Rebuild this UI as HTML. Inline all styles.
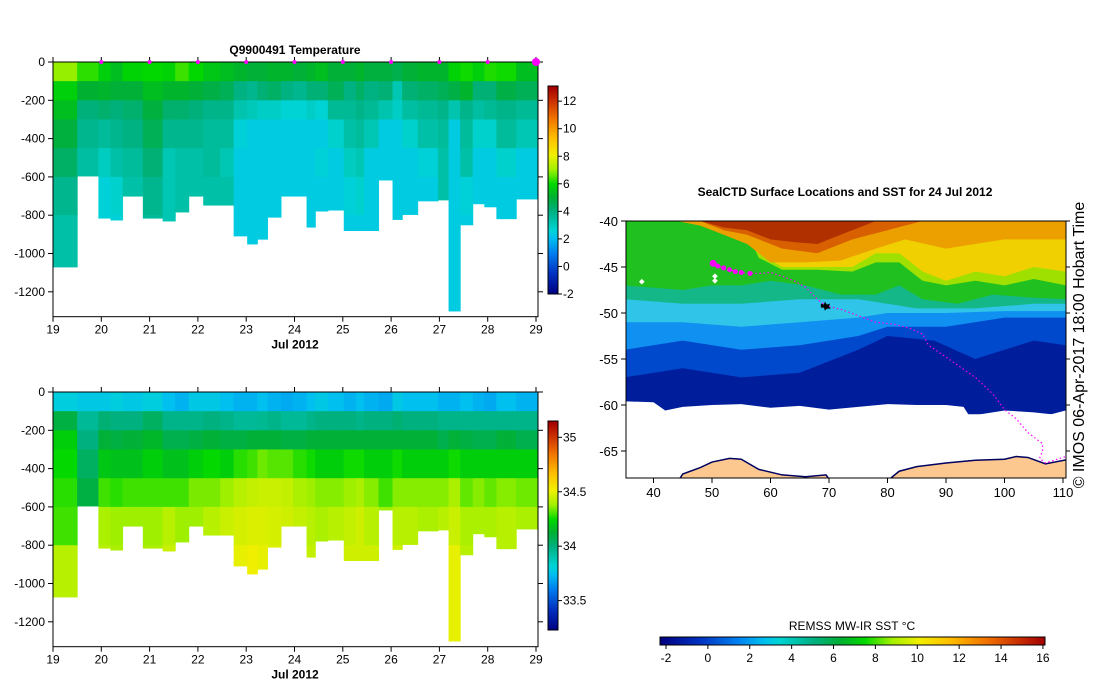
<!DOCTYPE html>
<html><head><meta charset="utf-8"><style>
body{margin:0;background:#fff;}
svg{display:block;font-family:"Liberation Sans",sans-serif;}
</style></head><body>
<svg id="s" width="1099" height="700" viewBox="0 0 1099 700">
<defs><clipPath id="mc"><rect x="626" y="221" width="440" height="257"/></clipPath></defs>
<g id="map"></g>
<g id="temp"></g>
<g id="sal"></g>
<g id="cb"></g>
<text x="295" y="54" text-anchor="middle" font-size="12" font-weight="bold">Q9900491  Temperature</text>
<text x="845" y="196" text-anchor="middle" font-size="12" font-weight="bold">SealCTD Surface Locations and SST for 24 Jul 2012</text>
<text transform="translate(1084,345) rotate(-90)" text-anchor="middle" font-size="16">© IMOS 06-Apr-2017 18:00 Hobart Time</text>
<text x="852" y="630" text-anchor="middle" font-size="12">REMSS MW-IR SST °C</text>
</svg>
<script>
const profileStart=[19,19.5,19.94,20.19,20.44,20.86,21.27,21.53,21.81,22.11,22.46,22.74,23.02,23.23,23.44,23.72,23.97,24.25,24.43,24.69,25.02,25.27,25.44,25.74,26.03,26.23,26.55,26.97,27.19,27.43,27.69,27.93,28.18,28.59];
const profileEnd=29.04;
const maxDepth=[1070,595,815,825,700,815,830,783,700,747,747,908,950,925,810,700,700,862,778,773,880,880,880,616,822,796,725,720,1300,850,740,756,818,715];
const levelTop=[0,100,200,300,450,600,800];
const levelBot=[100,200,300,450,600,800,1400];
const tempVals=[
[7.0,5.8,5.4,4.9,4.4,3.8,3.4],[6.3,5.1,4.1,3.8,3.5,3.4,3.4],[5.8,5.2,4.3,3.6,3.0,2.6,2.6],[5.4,5.0,4.1,3.8,3.4,2.8,2.6],
[5.9,5.0,4.3,4.0,3.6,3.4,3.4],[6.0,5.4,4.9,4.6,4.2,3.8,3.6],[5.9,5.2,4.3,3.8,3.2,3.2,3.2],[6.4,5.2,4.3,3.8,3.4,3.4,3.4],
[6.0,5.0,4.1,3.8,3.4,3.4,3.4],[5.6,4.8,3.9,3.6,3.6,3.4,3.4],[5.4,4.6,3.9,3.6,3.2,3.4,3.4],[5.2,4.0,3.3,2.6,2.4,2.4,2.4],
[5.0,3.8,3.1,2.4,2.4,2.4,2.4],[5.0,4.2,2.9,2.4,2.4,2.4,2.4],[5.2,4.4,2.9,2.4,2.4,2.4,2.4],[5.2,4.0,2.7,2.4,2.4,2.4,2.4],
[5.0,3.8,2.7,2.4,2.4,2.4,2.4],[5.2,4.2,2.9,2.4,2.4,2.4,2.4],[5.4,4.2,2.7,2.4,2.6,2.4,2.4],[5.0,4.6,3.7,2.8,2.4,2.4,2.4],
[5.0,4.0,3.7,3.4,3.0,2.6,2.4],[5.2,4.4,3.9,3.6,3.2,2.8,2.4],[4.9,4.0,3.7,3.2,2.4,2.4,2.4],[4.9,4.2,3.3,2.4,2.4,2.4,2.4],
[4.7,3.2,2.9,2.4,2.4,2.4,2.4],[5.0,4.2,3.5,2.8,2.4,2.4,2.4],[5.2,4.4,3.7,3.4,2.6,2.4,2.4],[5.2,4.6,3.9,3.6,3.4,3.4,3.4],
[5.9,4.8,3.3,2.4,2.4,2.4,2.4],[6.1,5.2,3.9,3.6,3.4,2.6,2.4],[5.8,4.2,3.5,2.8,2.4,2.4,2.4],[6.2,4.2,3.7,2.8,2.4,2.4,2.4],
[6.1,4.8,3.9,3.6,2.8,2.4,2.4],[5.4,4.6,3.7,3.2,2.4,2.4,2.4]];
const salVals=[
[33.8,34.1,34.22,34.25,34.28,34.3,34.42],[33.78,33.95,34.0,34.05,34.1,34.15,34.15],[33.78,34.02,34.12,34.2,34.3,34.4,34.42],[33.8,34.0,34.1,34.18,34.28,34.38,34.4],
[33.78,34.0,34.12,34.18,34.3,34.38,34.38],[33.8,34.05,34.15,34.22,34.3,34.38,34.4],[33.75,33.98,34.08,34.18,34.3,34.42,34.45],[33.72,33.98,34.08,34.18,34.3,34.38,34.38],
[33.78,33.98,34.1,34.22,34.35,34.38,34.38],[33.78,34.0,34.12,34.25,34.35,34.42,34.42],[33.75,33.98,34.1,34.22,34.38,34.45,34.47],[33.72,33.95,34.1,34.28,34.42,34.47,34.5],
[33.72,33.95,34.12,34.3,34.44,34.48,34.52],[33.75,33.96,34.12,34.34,34.45,34.48,34.5],[33.72,33.98,34.12,34.32,34.45,34.47,34.48],[33.7,33.95,34.1,34.32,34.44,34.46,34.46],
[33.72,33.95,34.1,34.28,34.4,34.44,34.44],[33.75,33.98,34.12,34.26,34.38,34.42,34.44],[33.78,34.0,34.12,34.22,34.36,34.4,34.42],[33.75,34.0,34.12,34.22,34.36,34.42,34.44],
[33.72,34.0,34.12,34.26,34.38,34.44,34.46],[33.75,33.98,34.12,34.26,34.4,34.46,34.46],[33.72,34.0,34.12,34.22,34.36,34.42,34.46],[33.7,34.0,34.12,34.22,34.3,34.38,34.38],
[33.78,34.02,34.12,34.26,34.36,34.42,34.46],[33.75,34.0,34.12,34.22,34.36,34.42,34.42],[33.75,34.0,34.12,34.22,34.36,34.4,34.4],[33.72,33.98,34.08,34.22,34.36,34.42,34.5],
[33.72,33.98,34.12,34.26,34.4,34.45,34.5],[33.75,33.98,34.1,34.22,34.33,34.4,34.42],[33.72,33.98,34.08,34.22,34.36,34.4,34.4],[33.7,33.98,34.08,34.22,34.33,34.4,34.42],
[33.75,33.98,34.12,34.22,34.36,34.42,34.42],[33.72,33.98,34.08,34.22,34.34,34.4,34.4]];
const dayTicks=[19,20,21,22,23,24,25,26,27,28,29];
const depthTicks=[0,200,400,600,800,1000,1200];
const tempCbTicks=[-2,0,2,4,6,8,10,12];
const salCbTicks=[33.5,34,34.5,35];
const sstTicks=[-2,0,2,4,6,8,10,12,14,16];
const stops=[[0,'#000080'],[0.1,'#0030c0'],[0.2,'#0080f0'],[0.27,'#00c0f0'],[0.31,'#00d4d4'],[0.4,'#00b080'],[0.47,'#00b030'],[0.53,'#00d800'],[0.6,'#a0f000'],[0.67,'#f0f000'],[0.75,'#ffc000'],[0.85,'#f07000'],[0.95,'#c02000'],[1,'#a00000']];
function hx(c){return [parseInt(c.substr(1,2),16),parseInt(c.substr(3,2),16),parseInt(c.substr(5,2),16)];}
function cmap(t){t=Math.max(0,Math.min(1,t));for(let i=1;i<stops.length;i++){if(t<=stops[i][0]){const a=hx(stops[i-1][1]),b=hx(stops[i][1]);const f=(t-stops[i-1][0])/(stops[i][0]-stops[i-1][0]);return 'rgb('+a.map((v,k)=>Math.round(v+(b[k]-v)*f)).join(',')+')';}}return stops[stops.length-1][1];}
const NS='http://www.w3.org/2000/svg';
function mk(p,tag,at){const e=document.createElementNS(NS,tag);for(const k in at)e.setAttribute(k,at[k]);p.appendChild(e);return e;}
function txt(p,x,y,s,anchor,size,bold){const t=mk(p,'text',{x:x,y:y,'text-anchor':anchor,'font-size':size});if(bold)t.setAttribute('font-weight','bold');t.textContent=s;return t;}

function section(g,top,vals,vmin,vmax,cbTop,cbBot,cbMin,cbMax,cbTicks,showMarkers){
  const X=d=>53+(d-19)*48.3, Y=z=>top+z*0.1915;
  for(let i=0;i<profileStart.length;i++){
    const x0=X(profileStart[i]), x1=X(i+1<profileStart.length?profileStart[i+1]:profileEnd);
    for(let j=0;j<levelTop.length;j++){
      if(levelTop[j]>=maxDepth[i])break;
      const z1=Math.min(levelBot[j],maxDepth[i]);
      const r=mk(g,'rect',{x:x0,y:Y(levelTop[j]),width:x1-x0+0.5,height:Y(z1)-Y(levelTop[j])+0.5,fill:cmap((vals[i][j]-vmin)/(vmax-vmin))});
      
      
    }
  }
  const bot=Y(1330);
  const fr=mk(g,'rect',{x:53,y:top,width:485,height:bot-top,fill:'none',stroke:'#000','stroke-width':1});
  
  
  depthTicks.forEach(d=>{const y=Y(d);mk(g,'line',{x1:48,x2:53,y1:y,y2:y,stroke:'#000'});mk(g,'line',{x1:538,x2:543,y1:y,y2:y,stroke:'#000'});
    const t=txt(g,45,y+4,d===0?'0':'-'+d,'end',12);});
  dayTicks.forEach(d=>{const x=X(d);mk(g,'line',{x1:x,x2:x,y1:bot,y2:bot+5,stroke:'#000'});mk(g,'line',{x1:x,x2:x,y1:top-5,y2:top,stroke:'#000'});
    const t=txt(g,x,bot+17,String(d),'middle',12);});
  const xl=txt(g,295,bot+32,'Jul 2012','middle',12,true);
  if(showMarkers){dayTicks.slice(1).forEach((d,k)=>{const m=mk(g,'circle',{cx:X(d),cy:top,r:k===9?4:2,fill:'#ff00ff'});});}
  const CY=v=>cbBot-(v-cbMin)/(cbMax-cbMin)*(cbBot-cbTop);
  for(let y=cbTop;y<cbBot;y+=1){mk(g,'rect',{x:548,y:y,width:10,height:1.2,fill:cmap((cbBot-y)/(cbBot-cbTop))});}
  mk(g,'rect',{x:548,y:cbTop,width:10,height:cbBot-cbTop,fill:'none',stroke:'#000'});
  cbTicks.forEach(v=>{const y=CY(v);mk(g,'line',{x1:558,x2:562,y1:y,y2:y,stroke:'#000'});const t=txt(g,563,y+4,String(v),'start',12);});
}
section(document.getElementById('temp'),62,tempVals,-2,13.1,86,294,-2,13.1,tempCbTicks,true);
section(document.getElementById('sal'),392,salVals,33.23,35.15,421,630,33.23,35.15,salCbTicks,false);

// map
const mg=document.getElementById('map');
const mi=mk(mg,'g',{'clip-path':'url(#mc)'});
const LX=l=>653.5+(l-40)*5.85, LY=a=>221+(-40-a)*9.2;
const bands=[
['#001e9c',[[35,-61],[110.5,-61]]],
['#0048cc',[[35,-57],[45,-56],[55,-57],[65,-56.5],[75,-54],[80,-52.5],[88,-53],[95,-55],[100,-54],[105,-53],[110.5,-53.5]]],
['#1090f0',[[35,-54],[45,-53],[55,-54],[65,-53.5],[75,-52.5],[80,-51.5],[90,-51.5],[100,-50.5],[110.5,-50.5]]],
['#30c4e8',[[35,-51],[45,-51],[55,-51.5],[65,-51],[75,-50.5],[80,-50],[90,-50],[100,-49.8],[110.5,-49.8]]],
['#14b888',[[35,-48.5],[45,-49],[55,-49],[65,-48.5],[75,-48.5],[85,-49.5],[95,-49.5],[105,-49],[110.5,-49]]],
['#20c020',[[35,-47],[45,-47.5],[50,-47],[55,-47],[60,-46.5],[66,-47],[72,-48],[78,-48],[82,-47],[86,-48.5],[92,-49],[98,-48],[104,-48.3],[110.5,-48.5]]],
['#a0e000',[[55,-40],[58,-44],[62,-45.3],[68,-45.3],[74,-45.5],[78,-44.5],[82,-44.5],[86,-46.5],[90,-47],[95,-46.5],[100,-47],[105,-46.3],[110.5,-47]]],
['#f0d000',[[56,-40],[58,-43.5],[62,-45],[68,-45],[74,-45],[78,-43.5],[82,-43.5],[86,-45.5],[90,-46.5],[95,-45.5],[100,-46],[105,-45],[110.5,-45.5]]],
['#eca000',[[44,-40],[48,-40.5],[52,-41.5],[56,-42.5],[60,-44.5],[66,-44.5],[72,-44.3],[78,-43],[83,-42],[90,-43],[100,-42],[110.5,-42]]],
['#d86000',[[48,-40],[52,-41],[56,-41.5],[62,-43],[68,-43.5],[74,-42],[80,-41],[86,-40]]],
['#b03000',[[48,-40],[52,-40.7],[56,-41],[60,-42],[64,-42.3],[68,-42.5],[72,-41.5],[76,-40.5],[78,-40]]]];
mk(mi,'rect',{x:626,y:221,width:440,height:257,fill:'#fff'});
bands.forEach(b=>{const pts=b[1];let d='M'+LX(pts[0][0])+','+LY(-40);pts.forEach(p=>d+=' L'+LX(p[0])+','+LY(p[1]));d+=' L'+LX(pts[pts.length-1][0])+','+LY(-40)+'Z';
  const p=mk(mi,'path',{d:d,fill:b[0]});});
const ice=[[35,-59.6],[40,-59.7],[42,-60.6],[45,-60.2],[50,-60],[55,-59.9],[60,-60.3],[65,-60.1],[70,-60.5],[75,-60.2],[80,-59.9],[85,-60],[90,-60],[93,-60.2],[94,-61.2],[100,-60.6],[105,-60.8],[108,-61],[111,-60.5]];
let id='M'+LX(35)+','+LY(-68.5);ice.forEach(p=>id+=' L'+LX(p[0])+','+LY(p[1]));id+=' L'+LX(111)+','+LY(-68.5)+'Z';
const ip=mk(mi,'path',{d:id,fill:'#fff'});
const land1=[[44,-68.5],[45,-67.5],[48,-66.8],[50,-66.2],[53,-65.8],[55,-65.9],[58,-67],[62,-67.6],[66,-67.8],[69.5,-67.6],[70.5,-68.5]];
const land2=[[79.5,-68.5],[82,-67.2],[85,-66.7],[90,-66.3],[95,-66],[100,-65.9],[102,-65.6],[104,-65.7],[107,-66.4],[111,-65.9],[111,-68.5]];
[land1,land2].forEach(L=>{let d='M'+LX(L[0][0])+','+LY(L[0][1]);L.forEach(p=>d+=' L'+LX(p[0])+','+LY(p[1]));d+='Z';
  const p=mk(mi,'path',{d:d,fill:'#fcc890',stroke:'#000060','stroke-width':1.5});});
const trackLon=[50.2,51,52,53,54,55,56.5,58,60,62,64,66,68,69,70,72,75,78,81,84,86,87,90,95,98,100,102,104,106.5,106.5,106,107,109,111];
const trackLat=[-44.6,-44.9,-45.1,-45.3,-45.5,-45.6,-45.7,-45.7,-45.6,-46,-46.5,-47.2,-48.5,-49,-49.3,-49.6,-50.3,-51,-51.2,-51.7,-52.3,-53.5,-54.8,-57,-58.8,-60.5,-61.5,-63,-64.2,-65,-65.8,-66.3,-65.9,-65.5];
let td='';trackLon.forEach((l,i)=>td+=(i?' L':'M')+LX(l)+','+LY(trackLat[i]));
const tp=mk(mi,'path',{d:td,fill:'none',stroke:'#ff00ff','stroke-width':1.2,'stroke-dasharray':'1.5,2.5'});
for(let i=0;i<7;i++){const c=mk(mi,'circle',{cx:LX(trackLon[i]),cy:LY(trackLat[i]),r:i===0?3.5:2.5,fill:'#ff00ff'});}
[[38,-46.6],[50.5,-46],[50.5,-46.5]].forEach(p=>{const c=mk(mi,'rect',{x:LX(p[0])-2,y:LY(p[1])-2,width:4,height:4,fill:'#fff',transform:'rotate(45 '+LX(p[0])+' '+LY(p[1])+')'});});
const bl=mk(mi,'path',{d:'M'+(LX(69.3)-4)+','+(LY(-49.2)-2)+' l3,1 l1,-3 l2,3 l3,-1 l-1,3 l2,2 l-4,0 l-2,2 l-1,-3 l-3,0z',fill:'#000'});

mk(mg,'rect',{x:626,y:221,width:440,height:257,fill:'none',stroke:'#000'});
[-40,-45,-50,-55,-60,-65].forEach(a=>{const y=LY(a);mk(mg,'line',{x1:621,x2:626,y1:y,y2:y,stroke:'#000'});mk(mg,'line',{x1:1066,x2:1070,y1:y,y2:y,stroke:'#000'});
  const t=txt(mg,618,y+5,String(a),'end',13);});
[40,50,60,70,80,90,100,110].forEach(l=>{const x=LX(l);mk(mg,'line',{x1:x,x2:x,y1:478,y2:483,stroke:'#000'});
  const t=txt(mg,x,497,String(l),'middle',13);});
const cg=document.getElementById('cb');
const SX=v=>666+(v+2)*20.94;
for(let x=660;x<1045;x++){mk(cg,'rect',{x:x,y:637,width:1.2,height:8,fill:cmap((x-660)/385)});}
mk(cg,'rect',{x:660,y:637,width:385,height:8,fill:'none',stroke:'#000'});
sstTicks.forEach(v=>{const x=SX(v);mk(cg,'line',{x1:x,x2:x,y1:645,y2:649,stroke:'#000'});const t=txt(cg,x,662,String(v),'middle',12);});
</script>
</body></html>
